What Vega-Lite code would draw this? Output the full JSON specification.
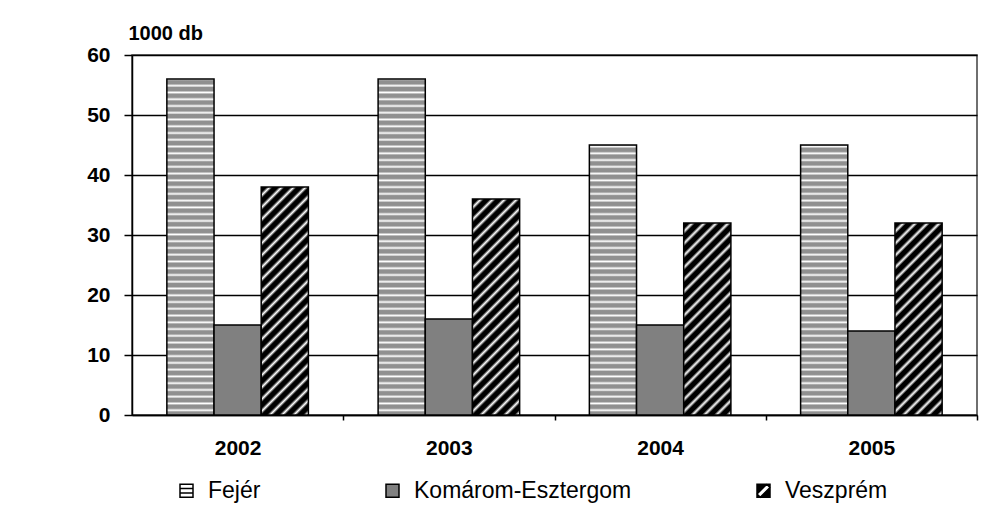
{
"$schema": "https://vega.github.io/schema/vega-lite/v6.json",
"autosize": "none",
"padding": {"left": 132, "top": 55, "right": 6, "bottom": 94},
"width": 845,
"height": 360,
"background": "#ffffff",
"config": {"view": {"stroke": "#404040", "strokeWidth": 1.5}, "font": "Liberation Sans"},
"data": {"values": [
{"year": "2002", "series": "Fejér", "value": 56},
{"year": "2002", "series": "Komárom-Esztergom", "value": 15},
{"year": "2002", "series": "Veszprém", "value": 38},
{"year": "2003", "series": "Fejér", "value": 56},
{"year": "2003", "series": "Komárom-Esztergom", "value": 16},
{"year": "2003", "series": "Veszprém", "value": 36},
{"year": "2004", "series": "Fejér", "value": 45},
{"year": "2004", "series": "Komárom-Esztergom", "value": 15},
{"year": "2004", "series": "Veszprém", "value": 32},
{"year": "2005", "series": "Fejér", "value": 45},
{"year": "2005", "series": "Komárom-Esztergom", "value": 14},
{"year": "2005", "series": "Veszprém", "value": 32}
]},
"encoding": {
"x": {"field": "year", "type": "nominal", "scale": {"paddingInner": 0.33, "paddingOuter": 0.165},
 "axis": {"title": null, "labelAngle": 0, "tickOffset": 105.625, "labelOffset": -105.625, "tickSize": 5, "tickColor": "#000", "tickWidth": 1.5, "domainColor": "#000", "domainWidth": 1.5, "labelPadding": 17, "labelFont": "Liberation Sans", "labelFontSize": 21, "labelFontWeight": "bold", "labelColor": "#000", "grid": false}},
"xOffset": {"field": "series", "type": "nominal", "sort": ["Fejér", "Komárom-Esztergom", "Veszprém"], "scale": {"paddingInner": 0, "paddingOuter": 0}},
"y": {"field": "value", "type": "quantitative", "scale": {"domain": [0, 60], "nice": false},
 "axis": {"title": "1000 db", "titleAngle": 0, "titleAlign": "left", "titleBaseline": "middle", "titleX": -4, "titleY": -22, "titleFont": "Liberation Sans", "titleFontSize": 20, "titleFontWeight": "bold", "titleColor": "#000",
 "values": [0, 10, 20, 30, 40, 50, 60], "labelFont": "Liberation Sans", "labelFontSize": 21, "labelFontWeight": "bold", "labelColor": "#000", "labelPadding": 14, "tickSize": 8, "tickColor": "#000", "tickWidth": 1.5, "domainColor": "#000", "domainWidth": 1.5, "grid": true, "gridColor": "#000", "gridWidth": 1.5}}
},
"layer": [
{"mark": {"type": "bar", "stroke": "#000000", "strokeWidth": 1.5},
"encoding": {
"fill": {"condition": [
 {"test": "datum.series === 'Fejér' && datum.value > 50", "value": {"gradient": "linear", "x1": 0, "y1": 1, "x2": 0, "y2": -0.006, "stops": [
{"offset":0,"color":"#909090"},{"offset":0.009,"color":"#909090"},{"offset":0.014,"color":"#ffffff"},
{"offset":0.02,"color":"#909090"},{"offset":0.029,"color":"#909090"},{"offset":0.034,"color":"#ffffff"},
{"offset":0.04,"color":"#909090"},{"offset":0.049,"color":"#909090"},{"offset":0.054,"color":"#ffffff"},
{"offset":0.06,"color":"#909090"},{"offset":0.069,"color":"#909090"},{"offset":0.074,"color":"#ffffff"},
{"offset":0.08,"color":"#909090"},{"offset":0.089,"color":"#909090"},{"offset":0.094,"color":"#ffffff"},
{"offset":0.1,"color":"#909090"},{"offset":0.109,"color":"#909090"},{"offset":0.114,"color":"#ffffff"},
{"offset":0.12,"color":"#909090"},{"offset":0.129,"color":"#909090"},{"offset":0.134,"color":"#ffffff"},
{"offset":0.14,"color":"#909090"},{"offset":0.149,"color":"#909090"},{"offset":0.154,"color":"#ffffff"},
{"offset":0.16,"color":"#909090"},{"offset":0.169,"color":"#909090"},{"offset":0.174,"color":"#ffffff"},
{"offset":0.18,"color":"#909090"},{"offset":0.189,"color":"#909090"},{"offset":0.194,"color":"#ffffff"},
{"offset":0.2,"color":"#909090"},{"offset":0.209,"color":"#909090"},{"offset":0.214,"color":"#ffffff"},
{"offset":0.22,"color":"#909090"},{"offset":0.229,"color":"#909090"},{"offset":0.234,"color":"#ffffff"},
{"offset":0.24,"color":"#909090"},{"offset":0.249,"color":"#909090"},{"offset":0.254,"color":"#ffffff"},
{"offset":0.26,"color":"#909090"},{"offset":0.269,"color":"#909090"},{"offset":0.274,"color":"#ffffff"},
{"offset":0.28,"color":"#909090"},{"offset":0.289,"color":"#909090"},{"offset":0.294,"color":"#ffffff"},
{"offset":0.3,"color":"#909090"},{"offset":0.309,"color":"#909090"},{"offset":0.314,"color":"#ffffff"},
{"offset":0.32,"color":"#909090"},{"offset":0.329,"color":"#909090"},{"offset":0.334,"color":"#ffffff"},
{"offset":0.34,"color":"#909090"},{"offset":0.349,"color":"#909090"},{"offset":0.354,"color":"#ffffff"},
{"offset":0.36,"color":"#909090"},{"offset":0.369,"color":"#909090"},{"offset":0.374,"color":"#ffffff"},
{"offset":0.38,"color":"#909090"},{"offset":0.389,"color":"#909090"},{"offset":0.394,"color":"#ffffff"},
{"offset":0.4,"color":"#909090"},{"offset":0.409,"color":"#909090"},{"offset":0.414,"color":"#ffffff"},
{"offset":0.42,"color":"#909090"},{"offset":0.429,"color":"#909090"},{"offset":0.434,"color":"#ffffff"},
{"offset":0.44,"color":"#909090"},{"offset":0.449,"color":"#909090"},{"offset":0.454,"color":"#ffffff"},
{"offset":0.46,"color":"#909090"},{"offset":0.469,"color":"#909090"},{"offset":0.474,"color":"#ffffff"},
{"offset":0.48,"color":"#909090"},{"offset":0.489,"color":"#909090"},{"offset":0.494,"color":"#ffffff"},
{"offset":0.5,"color":"#909090"},{"offset":0.509,"color":"#909090"},{"offset":0.514,"color":"#ffffff"},
{"offset":0.52,"color":"#909090"},{"offset":0.529,"color":"#909090"},{"offset":0.534,"color":"#ffffff"},
{"offset":0.54,"color":"#909090"},{"offset":0.549,"color":"#909090"},{"offset":0.554,"color":"#ffffff"},
{"offset":0.56,"color":"#909090"},{"offset":0.569,"color":"#909090"},{"offset":0.574,"color":"#ffffff"},
{"offset":0.58,"color":"#909090"},{"offset":0.589,"color":"#909090"},{"offset":0.594,"color":"#ffffff"},
{"offset":0.6,"color":"#909090"},{"offset":0.609,"color":"#909090"},{"offset":0.614,"color":"#ffffff"},
{"offset":0.62,"color":"#909090"},{"offset":0.629,"color":"#909090"},{"offset":0.634,"color":"#ffffff"},
{"offset":0.64,"color":"#909090"},{"offset":0.649,"color":"#909090"},{"offset":0.654,"color":"#ffffff"},
{"offset":0.66,"color":"#909090"},{"offset":0.669,"color":"#909090"},{"offset":0.674,"color":"#ffffff"},
{"offset":0.68,"color":"#909090"},{"offset":0.689,"color":"#909090"},{"offset":0.694,"color":"#ffffff"},
{"offset":0.7,"color":"#909090"},{"offset":0.709,"color":"#909090"},{"offset":0.714,"color":"#ffffff"},
{"offset":0.72,"color":"#909090"},{"offset":0.729,"color":"#909090"},{"offset":0.734,"color":"#ffffff"},
{"offset":0.74,"color":"#909090"},{"offset":0.749,"color":"#909090"},{"offset":0.754,"color":"#ffffff"},
{"offset":0.76,"color":"#909090"},{"offset":0.769,"color":"#909090"},{"offset":0.774,"color":"#ffffff"},
{"offset":0.78,"color":"#909090"},{"offset":0.789,"color":"#909090"},{"offset":0.794,"color":"#ffffff"},
{"offset":0.8,"color":"#909090"},{"offset":0.809,"color":"#909090"},{"offset":0.814,"color":"#ffffff"},
{"offset":0.82,"color":"#909090"},{"offset":0.829,"color":"#909090"},{"offset":0.834,"color":"#ffffff"},
{"offset":0.84,"color":"#909090"},{"offset":0.849,"color":"#909090"},{"offset":0.854,"color":"#ffffff"},
{"offset":0.86,"color":"#909090"},{"offset":0.869,"color":"#909090"},{"offset":0.874,"color":"#ffffff"},
{"offset":0.88,"color":"#909090"},{"offset":0.889,"color":"#909090"},{"offset":0.894,"color":"#ffffff"},
{"offset":0.9,"color":"#909090"},{"offset":0.909,"color":"#909090"},{"offset":0.914,"color":"#ffffff"},
{"offset":0.92,"color":"#909090"},{"offset":0.929,"color":"#909090"},{"offset":0.934,"color":"#ffffff"},
{"offset":0.94,"color":"#909090"},{"offset":0.949,"color":"#909090"},{"offset":0.954,"color":"#ffffff"},
{"offset":0.96,"color":"#909090"},{"offset":0.969,"color":"#909090"},{"offset":0.974,"color":"#ffffff"},
{"offset":0.98,"color":"#909090"},{"offset":0.989,"color":"#909090"},{"offset":0.994,"color":"#ffffff"},
{"offset":1,"color":"#909090"}]}},
 {"test": "datum.series === 'Fejér'", "value": {"gradient": "linear", "x1": 0, "y1": 1, "x2": 0, "y2": -0.2519, "stops": [
{"offset":0,"color":"#909090"},{"offset":0.009,"color":"#909090"},{"offset":0.014,"color":"#ffffff"},
{"offset":0.02,"color":"#909090"},{"offset":0.029,"color":"#909090"},{"offset":0.034,"color":"#ffffff"},
{"offset":0.04,"color":"#909090"},{"offset":0.049,"color":"#909090"},{"offset":0.054,"color":"#ffffff"},
{"offset":0.06,"color":"#909090"},{"offset":0.069,"color":"#909090"},{"offset":0.074,"color":"#ffffff"},
{"offset":0.08,"color":"#909090"},{"offset":0.089,"color":"#909090"},{"offset":0.094,"color":"#ffffff"},
{"offset":0.1,"color":"#909090"},{"offset":0.109,"color":"#909090"},{"offset":0.114,"color":"#ffffff"},
{"offset":0.12,"color":"#909090"},{"offset":0.129,"color":"#909090"},{"offset":0.134,"color":"#ffffff"},
{"offset":0.14,"color":"#909090"},{"offset":0.149,"color":"#909090"},{"offset":0.154,"color":"#ffffff"},
{"offset":0.16,"color":"#909090"},{"offset":0.169,"color":"#909090"},{"offset":0.174,"color":"#ffffff"},
{"offset":0.18,"color":"#909090"},{"offset":0.189,"color":"#909090"},{"offset":0.194,"color":"#ffffff"},
{"offset":0.2,"color":"#909090"},{"offset":0.209,"color":"#909090"},{"offset":0.214,"color":"#ffffff"},
{"offset":0.22,"color":"#909090"},{"offset":0.229,"color":"#909090"},{"offset":0.234,"color":"#ffffff"},
{"offset":0.24,"color":"#909090"},{"offset":0.249,"color":"#909090"},{"offset":0.254,"color":"#ffffff"},
{"offset":0.26,"color":"#909090"},{"offset":0.269,"color":"#909090"},{"offset":0.274,"color":"#ffffff"},
{"offset":0.28,"color":"#909090"},{"offset":0.289,"color":"#909090"},{"offset":0.294,"color":"#ffffff"},
{"offset":0.3,"color":"#909090"},{"offset":0.309,"color":"#909090"},{"offset":0.314,"color":"#ffffff"},
{"offset":0.32,"color":"#909090"},{"offset":0.329,"color":"#909090"},{"offset":0.334,"color":"#ffffff"},
{"offset":0.34,"color":"#909090"},{"offset":0.349,"color":"#909090"},{"offset":0.354,"color":"#ffffff"},
{"offset":0.36,"color":"#909090"},{"offset":0.369,"color":"#909090"},{"offset":0.374,"color":"#ffffff"},
{"offset":0.38,"color":"#909090"},{"offset":0.389,"color":"#909090"},{"offset":0.394,"color":"#ffffff"},
{"offset":0.4,"color":"#909090"},{"offset":0.409,"color":"#909090"},{"offset":0.414,"color":"#ffffff"},
{"offset":0.42,"color":"#909090"},{"offset":0.429,"color":"#909090"},{"offset":0.434,"color":"#ffffff"},
{"offset":0.44,"color":"#909090"},{"offset":0.449,"color":"#909090"},{"offset":0.454,"color":"#ffffff"},
{"offset":0.46,"color":"#909090"},{"offset":0.469,"color":"#909090"},{"offset":0.474,"color":"#ffffff"},
{"offset":0.48,"color":"#909090"},{"offset":0.489,"color":"#909090"},{"offset":0.494,"color":"#ffffff"},
{"offset":0.5,"color":"#909090"},{"offset":0.509,"color":"#909090"},{"offset":0.514,"color":"#ffffff"},
{"offset":0.52,"color":"#909090"},{"offset":0.529,"color":"#909090"},{"offset":0.534,"color":"#ffffff"},
{"offset":0.54,"color":"#909090"},{"offset":0.549,"color":"#909090"},{"offset":0.554,"color":"#ffffff"},
{"offset":0.56,"color":"#909090"},{"offset":0.569,"color":"#909090"},{"offset":0.574,"color":"#ffffff"},
{"offset":0.58,"color":"#909090"},{"offset":0.589,"color":"#909090"},{"offset":0.594,"color":"#ffffff"},
{"offset":0.6,"color":"#909090"},{"offset":0.609,"color":"#909090"},{"offset":0.614,"color":"#ffffff"},
{"offset":0.62,"color":"#909090"},{"offset":0.629,"color":"#909090"},{"offset":0.634,"color":"#ffffff"},
{"offset":0.64,"color":"#909090"},{"offset":0.649,"color":"#909090"},{"offset":0.654,"color":"#ffffff"},
{"offset":0.66,"color":"#909090"},{"offset":0.669,"color":"#909090"},{"offset":0.674,"color":"#ffffff"},
{"offset":0.68,"color":"#909090"},{"offset":0.689,"color":"#909090"},{"offset":0.694,"color":"#ffffff"},
{"offset":0.7,"color":"#909090"},{"offset":0.709,"color":"#909090"},{"offset":0.714,"color":"#ffffff"},
{"offset":0.72,"color":"#909090"},{"offset":0.729,"color":"#909090"},{"offset":0.734,"color":"#ffffff"},
{"offset":0.74,"color":"#909090"},{"offset":0.749,"color":"#909090"},{"offset":0.754,"color":"#ffffff"},
{"offset":0.76,"color":"#909090"},{"offset":0.769,"color":"#909090"},{"offset":0.774,"color":"#ffffff"},
{"offset":0.78,"color":"#909090"},{"offset":0.789,"color":"#909090"},{"offset":0.794,"color":"#ffffff"},
{"offset":0.8,"color":"#909090"},{"offset":0.809,"color":"#909090"},{"offset":0.814,"color":"#ffffff"},
{"offset":0.82,"color":"#909090"},{"offset":0.829,"color":"#909090"},{"offset":0.834,"color":"#ffffff"},
{"offset":0.84,"color":"#909090"},{"offset":0.849,"color":"#909090"},{"offset":0.854,"color":"#ffffff"},
{"offset":0.86,"color":"#909090"},{"offset":0.869,"color":"#909090"},{"offset":0.874,"color":"#ffffff"},
{"offset":0.88,"color":"#909090"},{"offset":0.889,"color":"#909090"},{"offset":0.894,"color":"#ffffff"},
{"offset":0.9,"color":"#909090"},{"offset":0.909,"color":"#909090"},{"offset":0.914,"color":"#ffffff"},
{"offset":0.92,"color":"#909090"},{"offset":0.929,"color":"#909090"},{"offset":0.934,"color":"#ffffff"},
{"offset":0.94,"color":"#909090"},{"offset":0.949,"color":"#909090"},{"offset":0.954,"color":"#ffffff"},
{"offset":0.96,"color":"#909090"},{"offset":0.969,"color":"#909090"},{"offset":0.974,"color":"#ffffff"},
{"offset":0.98,"color":"#909090"},{"offset":0.989,"color":"#909090"},{"offset":0.994,"color":"#ffffff"},
{"offset":1,"color":"#909090"}]}},
 {"test": "datum.series === 'Veszprém' && datum.value > 37", "value": {"gradient": "linear", "x1": 0, "y1": 0, "x2": 0.2611, "y2": 1.2618, "stops": [
{"offset":0,"color":"#000000"},{"offset":0.018,"color":"#000000"},{"offset":0.029,"color":"#ffffff"},
{"offset":0.04,"color":"#000000"},{"offset":0.058,"color":"#000000"},{"offset":0.069,"color":"#ffffff"},
{"offset":0.08,"color":"#000000"},{"offset":0.098,"color":"#000000"},{"offset":0.109,"color":"#ffffff"},
{"offset":0.12,"color":"#000000"},{"offset":0.138,"color":"#000000"},{"offset":0.149,"color":"#ffffff"},
{"offset":0.16,"color":"#000000"},{"offset":0.178,"color":"#000000"},{"offset":0.189,"color":"#ffffff"},
{"offset":0.2,"color":"#000000"},{"offset":0.218,"color":"#000000"},{"offset":0.229,"color":"#ffffff"},
{"offset":0.24,"color":"#000000"},{"offset":0.258,"color":"#000000"},{"offset":0.269,"color":"#ffffff"},
{"offset":0.28,"color":"#000000"},{"offset":0.298,"color":"#000000"},{"offset":0.309,"color":"#ffffff"},
{"offset":0.32,"color":"#000000"},{"offset":0.338,"color":"#000000"},{"offset":0.349,"color":"#ffffff"},
{"offset":0.36,"color":"#000000"},{"offset":0.378,"color":"#000000"},{"offset":0.389,"color":"#ffffff"},
{"offset":0.4,"color":"#000000"},{"offset":0.418,"color":"#000000"},{"offset":0.429,"color":"#ffffff"},
{"offset":0.44,"color":"#000000"},{"offset":0.458,"color":"#000000"},{"offset":0.469,"color":"#ffffff"},
{"offset":0.48,"color":"#000000"},{"offset":0.498,"color":"#000000"},{"offset":0.509,"color":"#ffffff"},
{"offset":0.52,"color":"#000000"},{"offset":0.538,"color":"#000000"},{"offset":0.549,"color":"#ffffff"},
{"offset":0.56,"color":"#000000"},{"offset":0.578,"color":"#000000"},{"offset":0.589,"color":"#ffffff"},
{"offset":0.6,"color":"#000000"},{"offset":0.618,"color":"#000000"},{"offset":0.629,"color":"#ffffff"},
{"offset":0.64,"color":"#000000"},{"offset":0.658,"color":"#000000"},{"offset":0.669,"color":"#ffffff"},
{"offset":0.68,"color":"#000000"},{"offset":0.698,"color":"#000000"},{"offset":0.709,"color":"#ffffff"},
{"offset":0.72,"color":"#000000"},{"offset":0.738,"color":"#000000"},{"offset":0.749,"color":"#ffffff"},
{"offset":0.76,"color":"#000000"},{"offset":0.778,"color":"#000000"},{"offset":0.789,"color":"#ffffff"},
{"offset":0.8,"color":"#000000"},{"offset":0.818,"color":"#000000"},{"offset":0.829,"color":"#ffffff"},
{"offset":0.84,"color":"#000000"},{"offset":0.858,"color":"#000000"},{"offset":0.869,"color":"#ffffff"},
{"offset":0.88,"color":"#000000"},{"offset":0.898,"color":"#000000"},{"offset":0.909,"color":"#ffffff"},
{"offset":0.92,"color":"#000000"},{"offset":0.938,"color":"#000000"},{"offset":0.949,"color":"#ffffff"},
{"offset":0.96,"color":"#000000"},{"offset":0.978,"color":"#000000"},{"offset":0.989,"color":"#ffffff"},
{"offset":1,"color":"#000000"}]}},
 {"test": "datum.series === 'Veszprém' && datum.value > 34", "value": {"gradient": "linear", "x1": 0, "y1": 0, "x2": 0.2896, "y2": 1.3256, "stops": [
{"offset":0,"color":"#000000"},{"offset":0.018,"color":"#000000"},{"offset":0.029,"color":"#ffffff"},
{"offset":0.04,"color":"#000000"},{"offset":0.058,"color":"#000000"},{"offset":0.069,"color":"#ffffff"},
{"offset":0.08,"color":"#000000"},{"offset":0.098,"color":"#000000"},{"offset":0.109,"color":"#ffffff"},
{"offset":0.12,"color":"#000000"},{"offset":0.138,"color":"#000000"},{"offset":0.149,"color":"#ffffff"},
{"offset":0.16,"color":"#000000"},{"offset":0.178,"color":"#000000"},{"offset":0.189,"color":"#ffffff"},
{"offset":0.2,"color":"#000000"},{"offset":0.218,"color":"#000000"},{"offset":0.229,"color":"#ffffff"},
{"offset":0.24,"color":"#000000"},{"offset":0.258,"color":"#000000"},{"offset":0.269,"color":"#ffffff"},
{"offset":0.28,"color":"#000000"},{"offset":0.298,"color":"#000000"},{"offset":0.309,"color":"#ffffff"},
{"offset":0.32,"color":"#000000"},{"offset":0.338,"color":"#000000"},{"offset":0.349,"color":"#ffffff"},
{"offset":0.36,"color":"#000000"},{"offset":0.378,"color":"#000000"},{"offset":0.389,"color":"#ffffff"},
{"offset":0.4,"color":"#000000"},{"offset":0.418,"color":"#000000"},{"offset":0.429,"color":"#ffffff"},
{"offset":0.44,"color":"#000000"},{"offset":0.458,"color":"#000000"},{"offset":0.469,"color":"#ffffff"},
{"offset":0.48,"color":"#000000"},{"offset":0.498,"color":"#000000"},{"offset":0.509,"color":"#ffffff"},
{"offset":0.52,"color":"#000000"},{"offset":0.538,"color":"#000000"},{"offset":0.549,"color":"#ffffff"},
{"offset":0.56,"color":"#000000"},{"offset":0.578,"color":"#000000"},{"offset":0.589,"color":"#ffffff"},
{"offset":0.6,"color":"#000000"},{"offset":0.618,"color":"#000000"},{"offset":0.629,"color":"#ffffff"},
{"offset":0.64,"color":"#000000"},{"offset":0.658,"color":"#000000"},{"offset":0.669,"color":"#ffffff"},
{"offset":0.68,"color":"#000000"},{"offset":0.698,"color":"#000000"},{"offset":0.709,"color":"#ffffff"},
{"offset":0.72,"color":"#000000"},{"offset":0.738,"color":"#000000"},{"offset":0.749,"color":"#ffffff"},
{"offset":0.76,"color":"#000000"},{"offset":0.778,"color":"#000000"},{"offset":0.789,"color":"#ffffff"},
{"offset":0.8,"color":"#000000"},{"offset":0.818,"color":"#000000"},{"offset":0.829,"color":"#ffffff"},
{"offset":0.84,"color":"#000000"},{"offset":0.858,"color":"#000000"},{"offset":0.869,"color":"#ffffff"},
{"offset":0.88,"color":"#000000"},{"offset":0.898,"color":"#000000"},{"offset":0.909,"color":"#ffffff"},
{"offset":0.92,"color":"#000000"},{"offset":0.938,"color":"#000000"},{"offset":0.949,"color":"#ffffff"},
{"offset":0.96,"color":"#000000"},{"offset":0.978,"color":"#000000"},{"offset":0.989,"color":"#ffffff"},
{"offset":1,"color":"#000000"}]}},
 {"test": "datum.series === 'Veszprém'", "value": {"gradient": "linear", "x1": 0, "y1": 0, "x2": 0.3621, "y2": 1.4735, "stops": [
{"offset":0,"color":"#000000"},{"offset":0.018,"color":"#000000"},{"offset":0.029,"color":"#ffffff"},
{"offset":0.04,"color":"#000000"},{"offset":0.058,"color":"#000000"},{"offset":0.069,"color":"#ffffff"},
{"offset":0.08,"color":"#000000"},{"offset":0.098,"color":"#000000"},{"offset":0.109,"color":"#ffffff"},
{"offset":0.12,"color":"#000000"},{"offset":0.138,"color":"#000000"},{"offset":0.149,"color":"#ffffff"},
{"offset":0.16,"color":"#000000"},{"offset":0.178,"color":"#000000"},{"offset":0.189,"color":"#ffffff"},
{"offset":0.2,"color":"#000000"},{"offset":0.218,"color":"#000000"},{"offset":0.229,"color":"#ffffff"},
{"offset":0.24,"color":"#000000"},{"offset":0.258,"color":"#000000"},{"offset":0.269,"color":"#ffffff"},
{"offset":0.28,"color":"#000000"},{"offset":0.298,"color":"#000000"},{"offset":0.309,"color":"#ffffff"},
{"offset":0.32,"color":"#000000"},{"offset":0.338,"color":"#000000"},{"offset":0.349,"color":"#ffffff"},
{"offset":0.36,"color":"#000000"},{"offset":0.378,"color":"#000000"},{"offset":0.389,"color":"#ffffff"},
{"offset":0.4,"color":"#000000"},{"offset":0.418,"color":"#000000"},{"offset":0.429,"color":"#ffffff"},
{"offset":0.44,"color":"#000000"},{"offset":0.458,"color":"#000000"},{"offset":0.469,"color":"#ffffff"},
{"offset":0.48,"color":"#000000"},{"offset":0.498,"color":"#000000"},{"offset":0.509,"color":"#ffffff"},
{"offset":0.52,"color":"#000000"},{"offset":0.538,"color":"#000000"},{"offset":0.549,"color":"#ffffff"},
{"offset":0.56,"color":"#000000"},{"offset":0.578,"color":"#000000"},{"offset":0.589,"color":"#ffffff"},
{"offset":0.6,"color":"#000000"},{"offset":0.618,"color":"#000000"},{"offset":0.629,"color":"#ffffff"},
{"offset":0.64,"color":"#000000"},{"offset":0.658,"color":"#000000"},{"offset":0.669,"color":"#ffffff"},
{"offset":0.68,"color":"#000000"},{"offset":0.698,"color":"#000000"},{"offset":0.709,"color":"#ffffff"},
{"offset":0.72,"color":"#000000"},{"offset":0.738,"color":"#000000"},{"offset":0.749,"color":"#ffffff"},
{"offset":0.76,"color":"#000000"},{"offset":0.778,"color":"#000000"},{"offset":0.789,"color":"#ffffff"},
{"offset":0.8,"color":"#000000"},{"offset":0.818,"color":"#000000"},{"offset":0.829,"color":"#ffffff"},
{"offset":0.84,"color":"#000000"},{"offset":0.858,"color":"#000000"},{"offset":0.869,"color":"#ffffff"},
{"offset":0.88,"color":"#000000"},{"offset":0.898,"color":"#000000"},{"offset":0.909,"color":"#ffffff"},
{"offset":0.92,"color":"#000000"},{"offset":0.938,"color":"#000000"},{"offset":0.949,"color":"#ffffff"},
{"offset":0.96,"color":"#000000"},{"offset":0.978,"color":"#000000"},{"offset":0.989,"color":"#ffffff"},
{"offset":1,"color":"#000000"}]}}
], "value": "#808080"}
}},
{"mark": {"type": "point", "filled": true, "opacity": 0, "strokeWidth": 1.5},
"encoding": {
"fill": {"field": "series", "type": "nominal", "scale": {"domain": ["Fejér", "Komárom-Esztergom", "Veszprém"], "range": ["#ffffff", "#808080", "#000000"]},
 "legend": {"title": null, "orient": "none", "direction": "horizontal", "legendX": 43, "legendY": 424, "padding": 0, "columnPadding": 120, "symbolSize": 169, "symbolOpacity": 1, "symbolStrokeWidth": 1.5, "labelFont": "Liberation Sans", "labelFontSize": 23, "labelColor": "#000", "labelOffset": 10, "labelLimit": 500}},
"stroke": {"field": "series", "type": "nominal", "scale": {"domain": ["Fejér", "Komárom-Esztergom", "Veszprém"], "range": ["#000000", "#000000", "#000000"]},
 "legend": {"title": null, "orient": "none", "direction": "horizontal", "legendX": 43, "legendY": 424, "padding": 0, "columnPadding": 120, "symbolSize": 169, "symbolOpacity": 1, "symbolStrokeWidth": 1.5, "labelFont": "Liberation Sans", "labelFontSize": 23, "labelColor": "#000", "labelOffset": 10, "labelLimit": 500}},
"shape": {"field": "series", "type": "nominal", "scale": {"domain": ["Fejér", "Komárom-Esztergom", "Veszprém"], "range": ["M-1,-1L1,-1L1,1L-1,1Z M-1,-0.33L1,-0.33 M-1,0.33L1,0.33", "square", "M-1,-1L1,-1L1,1L-1,1Z M-0.5,1L1,-0.5L0.5,-1L-1,0.5Z"]},
 "legend": {"title": null, "orient": "none", "direction": "horizontal", "legendX": 43, "legendY": 424, "padding": 0, "columnPadding": 120, "symbolSize": 169, "symbolOpacity": 1, "symbolStrokeWidth": 1.5, "labelFont": "Liberation Sans", "labelFontSize": 23, "labelColor": "#000", "labelOffset": 10, "labelLimit": 500}}
}}
]
}
